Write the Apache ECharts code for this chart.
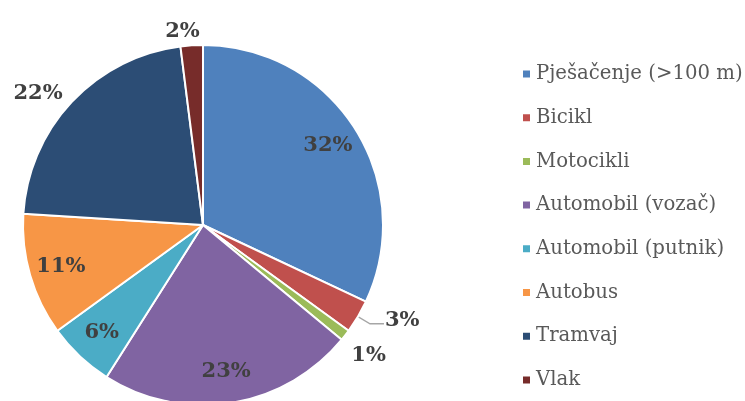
<!DOCTYPE html>
<html>
<head>
<meta charset="utf-8">
<script src="https://cdn.jsdelivr.net/npm/echarts@6/dist/echarts.min.js"></script>
<style>
  html, body { margin: 0; padding: 0; background: #fff; }
  #chart { width: 745px; height: 401px; }
</style>
</head>
<body>
<div id="chart"></div>
<script>
// kategorije i udjeli (%)
var categories = ['Pješačenje (>100 m)', 'Bicikl', 'Motocikli', 'Automobil (vozač)', 'Automobil (putnik)', 'Autobus', 'Tramvaj', 'Vlak'];
var shares = [32, 3, 1, 23, 6, 11, 22, 2];
var colors = ['#4F81BD', '#C0504D', '#9BBB59', '#8064A2', '#4BACC6', '#F79646', '#2C4D75', '#772C2A'];
// koji postotak stoji unutar kriške
var insideLabel = [true, false, false, true, true, true, false, false];

var fontFamily = '"DejaVu Serif", "Liberation Serif", serif';
var labelStyle = {
  fontFamily: fontFamily,
  fontWeight: 'bold',
  fontSize: 21,
  color: '#404040'
};

// sitni pomaci vanjskih natpisa
var outsideOffset = {
  'Bicikl': [-4, -3],
  'Motocikli': [-14, 12],
  'Tramvaj': [10, 1],
  'Vlak': [18, 0]
};

var chart = echarts.init(document.getElementById('chart'));

chart.setOption({
  animation: false,
  color: colors,
  legend: {
    orient: 'vertical',
    left: 516,
    top: 59,
    icon: 'rect',
    itemWidth: 9,
    itemHeight: 9,
    itemGap: 23.7,
    textStyle: {
      fontFamily: fontFamily,
      fontSize: 19.7,
      lineHeight: 20,
      color: '#595959'
    },
    data: categories
  },
  series: [
    {
      type: 'pie',
      center: [203, 225],
      radius: [0, 180],
      startAngle: 90,
      clockwise: true,
      avoidLabelOverlap: false,
      itemStyle: { borderColor: '#fff', borderWidth: 2 },
      label: Object.assign({ show: true, position: 'outside', formatter: '{d}%' }, labelStyle),
      labelLine: { show: false, length: 14, length2: 4 },
      emphasis: { disabled: true },
      data: categories.map(function (name, i) {
        var item = { name: name, value: shares[i] };
        if (insideLabel[i]) {
          item.label = { show: false };
        } else if (outsideOffset[name]) {
          item.label = { offset: outsideOffset[name] };
        }
        if (name === 'Bicikl') {
          item.labelLine = { show: true, length: 14, length2: 14, lineStyle: { color: '#A6A6A6', width: 1.3 } };
        }
        return item;
      })
    },
    {
      // nevidljivi prsten samo za natpise unutar kriški
      type: 'pie',
      center: [203, 225],
      radius: [122, 168],
      startAngle: 90,
      clockwise: true,
      silent: true,
      legendHoverLink: false,
      itemStyle: { color: 'rgba(0,0,0,0)', borderWidth: 0 },
      label: Object.assign({ show: true, position: 'inside', formatter: '{d}%' }, labelStyle),
      labelLine: { show: false },
      data: categories.map(function (name, i) {
        var item = { name: name, value: shares[i] };
        if (!insideLabel[i]) {
          item.label = { show: false };
        }
        return item;
      })
    }
  ]
});
</script>
</body>
</html>
